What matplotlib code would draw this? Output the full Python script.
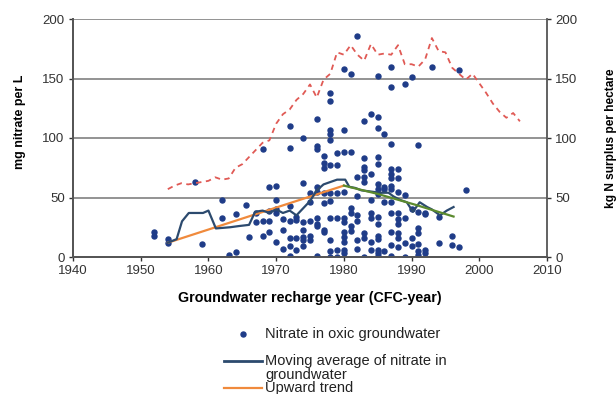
import matplotlib
matplotlib.use("Agg")
import matplotlib.pyplot as plt
from matplotlib.lines import Line2D

plt.rcParams['font.family'] = ['Liberation Sans', 'DejaVu Sans']

# ---- data ----
scatter_year = [1952, 1952, 1954, 1954, 1958, 1959, 1962, 1962, 1963, 1964, 1964, 1965.6, 1966, 1967, 1967,
                1968, 1968, 1968, 1969, 1969, 1969, 1969,
                1970, 1970, 1970, 1970, 1970, 1971, 1971, 1971,
                1972, 1972, 1972, 1972, 1972, 1972, 1972, 1973, 1973, 1973, 1973,
                1974, 1974, 1974, 1974, 1974, 1974, 1974, 1975, 1975, 1975, 1975, 1975,
                1976, 1976, 1976, 1976, 1976, 1976, 1976, 1976, 1976,
                1977, 1977, 1977, 1977, 1977, 1977, 1977,
                1978, 1978, 1978, 1978, 1978, 1978, 1978, 1978, 1978, 1978, 1978, 1978,
                1979, 1979, 1979, 1979, 1979, 1979,
                1980, 1980, 1980, 1980, 1980, 1980, 1980, 1980, 1980, 1980, 1980,
                1981, 1981, 1981, 1981, 1981, 1981,
                1982, 1982, 1982, 1982, 1982, 1982, 1982,
                1983, 1983, 1983, 1983, 1983, 1983, 1983, 1983, 1983,
                1984, 1984, 1984, 1984, 1984, 1984, 1984,
                1985, 1985, 1985, 1985, 1985, 1985, 1985, 1985, 1985, 1985, 1985, 1985, 1985, 1985, 1985,
                1986, 1986, 1986, 1986, 1986,
                1987, 1987, 1987, 1987, 1987, 1987, 1987, 1987, 1987, 1987, 1987, 1987, 1987,
                1988, 1988, 1988, 1988, 1988, 1988, 1988, 1988, 1988,
                1989, 1989, 1989, 1989, 1989,
                1990, 1990, 1990, 1990,
                1991, 1991, 1991, 1991, 1991, 1991, 1991,
                1992, 1992, 1992, 1992,
                1993, 1994, 1994, 1996, 1996, 1997, 1997, 1998]
scatter_nitrate = [21, 18, 15, 12, 63, 11, 48, 33, 2, 4, 36, 44, 17, 37, 29,
                   30, 18, 91, 39, 59, 21, 30,
                   60, 48, 37, 13, 40, 32, 7, 23,
                   110, 92, 30, 16, 9, 1, 43, 31, 6, 16, 34,
                   100, 62, 29, 9, 17, 14, 23, 54, 30, 18, 14, 46,
                   116, 93, 91, 59, 55, 28, 26, 33, 1,
                   85, 79, 75, 54, 45, 21, 23,
                   138, 131, 107, 103, 98, 77, 54, 47, 33, 14, 5, 0,
                   87, 77, 54, 33, 6, 0,
                   158, 107, 88, 55, 33, 29, 21, 17, 13, 6, 3,
                   154, 88, 41, 37, 26, 22,
                   186, 67, 51, 35, 30, 14, 7,
                   114, 83, 76, 73, 67, 63, 20, 16, 0,
                   120, 70, 48, 37, 33, 13, 6,
                   152, 118, 108, 84, 78, 61, 57, 53, 34, 28, 18, 15, 6, 3, 0.5,
                   103, 59, 57, 46, 5,
                   160, 143, 95, 74, 70, 66, 60, 57, 46, 37, 21, 10, 1,
                   74, 66, 55, 37, 32, 28, 20, 16, 8,
                   145, 52, 33, 12, 0,
                   151, 16, 9, 40,
                   94, 38, 24, 20, 11, 5, 2,
                   37, 36, 6, 3,
                   160, 34, 12, 18, 10, 157, 8, 56]

mavg_year = [1954, 1955.3, 1956.1, 1957.1, 1959.2, 1960, 1961.1, 1963.2, 1964.5, 1966, 1966.9, 1968, 1969,
             1970, 1971, 1972, 1973, 1974, 1975, 1976, 1977, 1978, 1979, 1980.2, 1980.8, 1981.7,
             1982.6, 1984, 1985.3, 1986.6, 1987.3, 1988.3, 1989.3, 1990.2, 1991.2, 1992.3, 1993,
             1994.2, 1995.2, 1996.2]
mavg_nitrate = [12, 15, 30, 37, 37, 39, 24, 25, 26, 27, 38, 39, 37,
                40, 37, 39, 35, 41, 47, 56, 61, 63, 65, 65, 59, 58,
                56, 55, 54, 54, 51, 48, 46, 38, 46, 42, 40,
                35, 39, 42]

up_year = [1954, 1980]
up_nitrate = [12, 60]

down_year = [1980, 1985, 1990.5, 1996.2]
down_nitrate = [60, 53, 44, 34]

surplus_year = list(range(1954, 2007))
surplus_kgN = [57, 60, 62, 61, 62, 63, 64, 67, 65, 66, 75, 78, 84, 90, 96, 98, 112, 120, 124, 132, 137,
               145, 134, 149, 154, 172, 170, 178, 170, 165, 179, 170, 171, 170, 178, 162, 162, 160, 166,
               184, 173, 172, 159, 154, 149, 154, 146, 138, 129, 122, 117, 121, 114]

x_ticks = [1940, 1950, 1960, 1970, 1980, 1990, 2000, 2010]
y_ticks = [0, 50, 100, 150, 200]
legend_labels = ['Nitrate in oxic groundwater', 'Moving average of nitrate in\ngroundwater', 'Upward trend']

# ---- figure ----
W, H = 616, 394
fig = plt.figure(figsize=(W/100, H/100), dpi=100)
ax = fig.add_axes([73/W, 1-257/H, (547-73)/W, (257-19)/H])
ax2 = ax.twinx()

navy = '#1f3c88'
blue_line = '#2c4a6e'
orange = '#f08a3c'
green = '#5b8a2e'
red = '#e05a55'
grey_txt = '#333333'

ax.set_xlim(1940, 2010)
ax.set_ylim(0, 200)
ax2.set_ylim(0, 200)

for v in [50, 100, 150, 200]:
    ax.axhline(v, color='#8a8a8a', lw=1.3, zorder=0)

ax.plot(scatter_year, scatter_nitrate, 'o', color=navy, ms=3.6, mec=navy, zorder=3)
ax.plot(up_year, up_nitrate, color=orange, lw=1.6, zorder=4)
ax.plot(mavg_year, mavg_nitrate, color=blue_line, lw=1.6, zorder=5)
ax.plot(down_year, down_nitrate, color=green, lw=1.6, zorder=6)
ax2.plot(surplus_year, surplus_kgN, color=red, lw=1.3, ls=(0, (3, 2.5)))

ax.set_xticks(x_ticks)
ax.set_yticks(y_ticks)
ax2.set_yticks(y_ticks)
for a in (ax, ax2):
    a.tick_params(axis='both', labelsize=9.5, colors=grey_txt, length=3, width=1, pad=3)
    a.spines['top'].set_visible(False)
    for s in ['left', 'right', 'bottom']:
        a.spines[s].set_color('#555555')
        a.spines[s].set_linewidth(1.3)
ax.spines['right'].set_visible(False)

ax.set_xlabel('Groundwater recharge year (CFC-year)', fontsize=10.3, fontweight='bold', labelpad=10)
ax.set_ylabel('mg nitrate per L', fontsize=9, fontweight='bold')
ax.yaxis.set_label_coords(-0.1, 0.57)
ax2.set_ylabel('kg N surplus per hectare', fontsize=8.6, fontweight='bold')
ax2.yaxis.set_label_coords(1.122, 0.5)

# ---- legend (drawn below the axes) ----
def fx(px):
    return px / W

def fy(py):
    return 1 - py / H

fig.add_artist(Line2D([fx(242.5)], [fy(334)], marker='o', ls='none', color=navy, ms=3.6))
fig.add_artist(Line2D([fx(224), fx(262)], [fy(361), fy(361)], color=blue_line, lw=2.0))
fig.add_artist(Line2D([fx(224), fx(262)], [fy(388), fy(388)], color=orange, lw=1.6))
fig.text(fx(265), fy(334), legend_labels[0], fontsize=10.5, va='center', ha='left', color='#222222')
fig.text(fx(265), fy(354), legend_labels[1], fontsize=10.5, va='top', ha='left', color='#222222',
         linespacing=1.0)
fig.text(fx(265), fy(388), legend_labels[2], fontsize=10.5, va='center', ha='left', color='#222222')

fig.savefig('out.png', dpi=100)
